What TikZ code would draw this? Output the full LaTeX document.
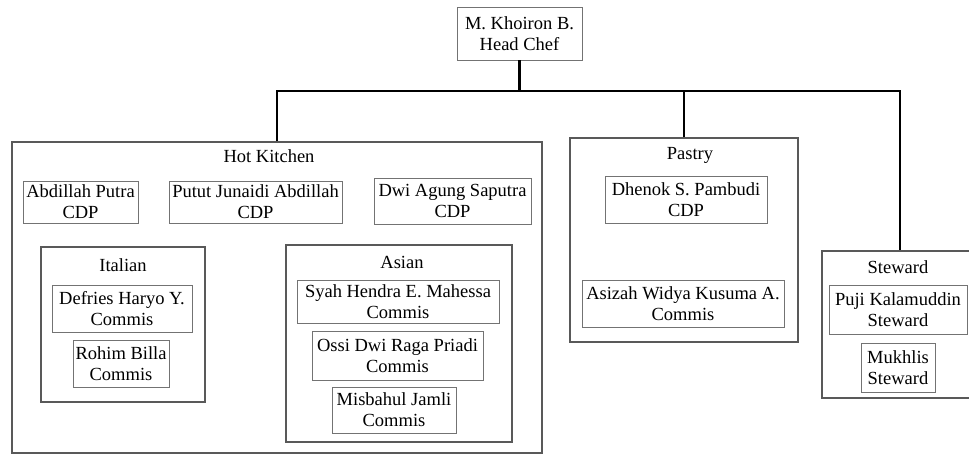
\documentclass[tikz,border=0pt]{standalone}
\usepackage{fontspec}
\setmainfont{Liberation Serif}
\tikzset{
  person/.style={draw=black!55, line width=0.9pt, inner sep=0pt, align=center,
                 font=\fontsize{18.5}{21}\selectfont},
  group/.style={draw=black!65, line width=1.1pt, inner sep=0pt},
  grouptitle/.style={inner sep=0pt, font=\fontsize{18.5}{21}\selectfont},
  conn/.style={line width=2.6pt}
}

\begin{document}
\begin{tikzpicture}[x=1pt,y=-1pt]
\useasboundingbox (0,0) rectangle (969,454);
% sections
\foreach \x/\y/\w/\h/\n/\tx/\ty/\t in {277/297.5/530/311/hot/269/156/Hot Kitchen,
                                      123/324.5/164/155/italian/123/265/Italian,
                                      399/343.5/226/197/asian/402/262/Asian,
                                      684/240/228/204/pastry/690/155/Pastry,
                                      900/324.5/156/147/steward/898/267/Steward}
  {\node[group,minimum width=\w,minimum height=\h] (\n) at (\x,\y) {};
   \node[grouptitle] (\n-title) at (\tx,\ty) {\t};}
% staff
\foreach \x/\y/\w/\h/\n/\t in {519.5/33.5/125/53/head/{M. Khoiron B.\\Head Chef},
                              80.5/202/115/42/abdillah/{Abdillah Putra\\CDP},
                              255.5/202/173/42/putut/{Putut Junaidi Abdillah\\CDP},
                              452.5/201/157/46/dwi/{Dwi Agung Saputra\\CDP},
                              122/308.5/140/47/defries/{Defries Haryo Y.\\Commis},
                              121/363.5/96/47/rohim/{Rohim Billa\\Commis},
                              398/301.5/202/43/syah/{Syah Hendra E. Mahessa\\Commis},
                              397.5/355.5/171/49/ossi/{Ossi Dwi Raga Priadi\\Commis},
                              394/410/124/46/misbahul/{Misbahul Jamli\\Commis},
                              686/199.5/162/47/dhenok/{Dhenok S. Pambudi\\CDP},
                              683/303.5/202/47/asizah/{Asizah Widya Kusuma A.\\Commis},
                              898/309.5/138/49/puji/{Puji Kalamuddin\\Steward},
                              898/367.5/74/49/mukhlis/{Mukhlis\\Steward}}
  \node[person,minimum width=\w,minimum height=\h] (\n) at (\x,\y) {\t};
% lines
\coordinate (bus) at (519.5,91);
\draw[conn] (head.south) -- (bus);
\draw[conn] (hot.north) |- (bus) -| (steward.north);
\draw[conn] (pastry.north) -- (pastry.north |- bus);
\end{tikzpicture}
\end{document}
